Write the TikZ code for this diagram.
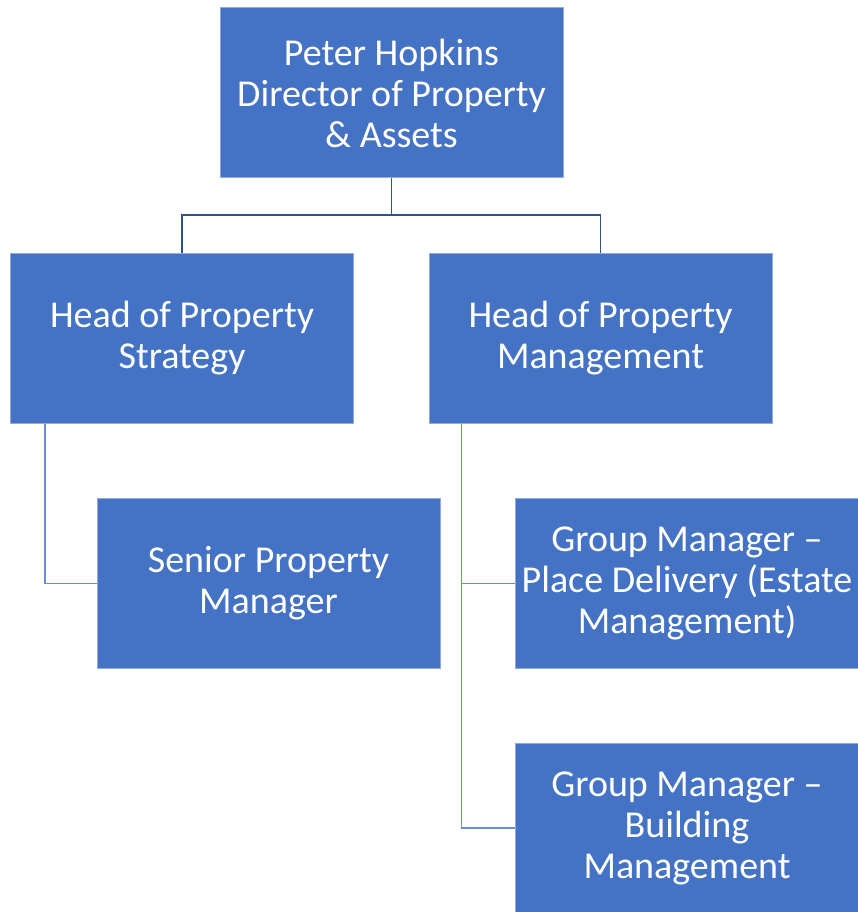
\documentclass[tikz,border=0pt]{standalone}
\usepackage{fontspec}
\setmainfont{Carlito}
\usepackage{tikz}
\usetikzlibrary{calc}
\definecolor{boxblue}{HTML}{4472C4}
\definecolor{rimblue}{HTML}{8FAADC}
\definecolor{linkdark}{HTML}{2F528F}
\definecolor{linklight}{HTML}{6D8DD0}

\begin{document}
\begin{tikzpicture}[x=1pt,y=-1pt,
    post/.style={draw=rimblue, line width=1pt, fill=boxblue, text=white,
      minimum width=343pt, minimum height=170pt, inner sep=0pt, align=center,
      font=\fontsize{38}{41}\selectfont},
    toplink/.style={draw=linkdark, line width=1.3pt},
    sublink/.style={draw=linklight, line width=1.5pt}]
  \useasboundingbox (0,0) rectangle (857,912);
  \node [post] (dir) at (391.5,93) {Peter Hopkins\\Director of Property\\\& Assets};
  \node [post] (strat) at (182,338) {Head of Property\\Strategy};
  \node [post] (mgmt) at (600.5,338) {Head of Property\\Management};
  \node [post] (senior) at (268.5,583.5) {Senior Property\\Manager};
  \node [post] (place) at (687,583.5) {Group Manager --\\Place Delivery (Estate\\Management)};
  \node [post] (build) at (687,828) {Group Manager --\\Building\\Management};
  \coordinate (split) at (391.5,215);
  \coordinate (stratdrop) at ($(strat.south west)+(35,0)$);
  \coordinate (mgmtdrop) at ($(mgmt.south west)+(33,0)$);
  \draw [toplink] (dir.south) -- (split);
  \draw [toplink] (strat.north) |- (split) -| (mgmt.north);
  \draw [sublink] (stratdrop) |- (senior.west);
  \draw [sublink] (mgmtdrop) |- (build.west);
  \draw [sublink] (mgmtdrop |- place.west) -- (place.west);
\end{tikzpicture}
\end{document}
